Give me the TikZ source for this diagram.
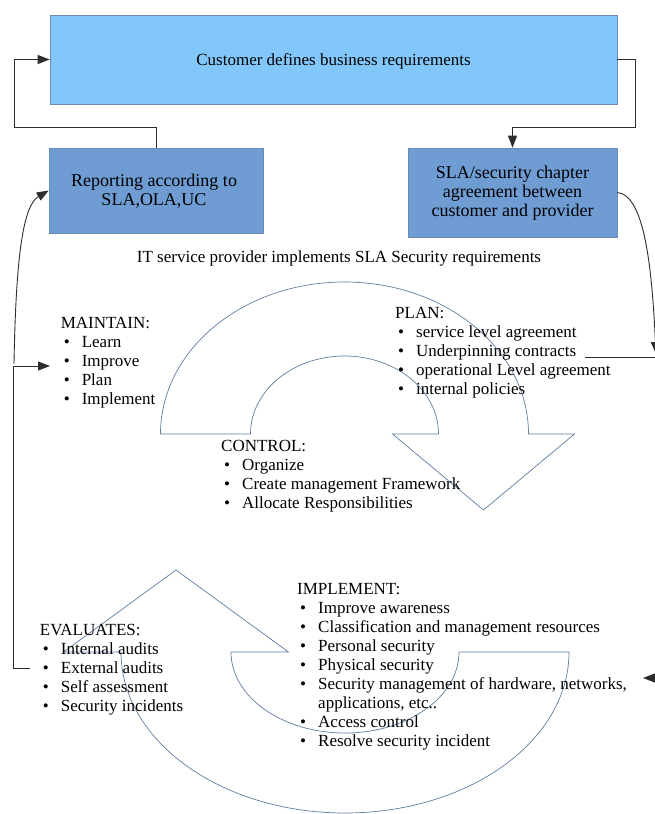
\documentclass[tikz,border=0pt]{standalone}
\usepackage{fontspec}
\setmainfont{Liberation Serif}
\usepackage{tikz}
\usetikzlibrary{arrows.meta, positioning, calc}

\definecolor{skyfill}{RGB}{130,199,250}
\definecolor{steelfill}{RGB}{110,156,211}
\definecolor{frame}{RGB}{105,140,180}
\definecolor{arcline}{RGB}{95,125,160}
\definecolor{wire}{RGB}{45,45,45}

\newcommand{\itm}[1]{\\\hspace*{3pt}\makebox[18pt][l]{\textbullet}#1}

\begin{document}
\begin{tikzpicture}[x=1pt, y=-1pt,
    box/.style={draw=frame, line width=0.6pt, inner sep=0},
    txt/.style={font=\fontsize{17}{19}\selectfont, align=center, inner sep=0},
    boxtxt/.style={font=\fontsize{18}{19}\selectfont, align=center, inner sep=0},
    list/.style={font=\fontsize{17}{19}\selectfont, align=left, inner sep=0, anchor=north west},
    wireline/.style={draw=wire, line width=0.9pt},
    conn/.style={wireline, -{Triangle[length=12pt, width=9pt]}},
    loopshape/.style={draw=arcline, line width=0.7pt}]
    \useasboundingbox (0,0) rectangle (655,814);

    % boxes
    \node[box, fill=skyfill, minimum width=567pt, minimum height=89pt] (cust) at (333.5,59.5) {};
    \node[box, fill=steelfill, minimum width=214pt, minimum height=85pt] (report) at (156,190.5) {};
    \node[box, fill=steelfill, minimum width=209pt, minimum height=89pt] (sla) at (512.5,192.5) {};
    \node[txt] (custtxt) at ([yshift=-2pt]cust.center) {Customer defines business requirements};
    \node[boxtxt] (reporttxt) at ([xshift=-2pt, yshift=-1pt]report.center) {Reporting according to\\SLA,OLA,UC};
    \node[boxtxt] (slatxt) at ([yshift=-1pt]sla.center) {SLA/security chapter\\agreement between\\customer and provider};
    \node[txt] (itline) at (339,258) {IT service provider implements SLA Security requirements};

    % the two big arrows
    \draw[loopshape] (160.5,434) arc[start angle=180, end angle=0, x radius=184pt, y radius=152pt]
        -- (574.5,434) -- (483.5,510) -- (392.5,434) -- (438.5,434)
        arc[start angle=0, end angle=180, x radius=94pt, y radius=78pt] -- cycle;
    \draw[loopshape] (569,652) arc[start angle=0, end angle=-180, x radius=224pt, y radius=161pt]
        -- (63.5,652) -- (176,570) -- (288.5,652) -- (231,652)
        arc[start angle=180, end angle=360, x radius=114pt, y radius=81pt] -- cycle;

    % phases
    \node[list] (maintain) at (60.6,317.4) {MAINTAIN:\itm{Learn}\itm{Improve}\itm{Plan}\itm{Implement}};
    \node[list] (plan) at (395,307.4) {PLAN:\itm{service level agreement}\itm{Underpinning contracts}\itm{operational Level agreement}\itm{internal policies}};
    \node[list] (control) at (221,440.4) {CONTROL:\itm{Organize}\itm{Create management Framework}\itm{Allocate Responsibilities}};
    \node[list] (evaluates) at (39.7,624.4) {EVALUATES:\itm{Internal audits}\itm{External audits}\itm{Self assessment}\itm{Security incidents}};
    \node[list] (implement) at (297,583.4) {IMPLEMENT:\itm{Improve awareness}\itm{Classification and management resources}\itm{Personal security}\itm{Physical security}\itm{Security management of hardware, networks,}\\\hspace*{21pt}applications, etc..\itm{Access control}\itm{Resolve security incident}};

    % connectors
    \coordinate (evstub) at (30,668);
    \coordinate (mtip) at (50,366);
    \coordinate (slaend) at (656,354);
    \coordinate (hline) at (585,357);
    \coordinate (hlineend) at (660,357);
    \coordinate (rtail) at (672,678);
    \coordinate (rtip) at (643,678);

    \draw[conn] (report.north) |- (14,127) |- (cust.west);
    \draw[conn] (cust.east) -| (635,127) -| (sla.north);
    \draw[conn] (sla.east) .. controls (645,195) and (652,270) .. (slaend);
    \draw[wireline] (hline) -- (hlineend);
    \draw[conn] (evstub) -| (13,366) -- (mtip);
    \draw[conn] (14,364) .. controls (16,250) and (24,205) .. (report.west);
    \draw[conn] (rtail) -- (rtip);
\end{tikzpicture}
\end{document}
